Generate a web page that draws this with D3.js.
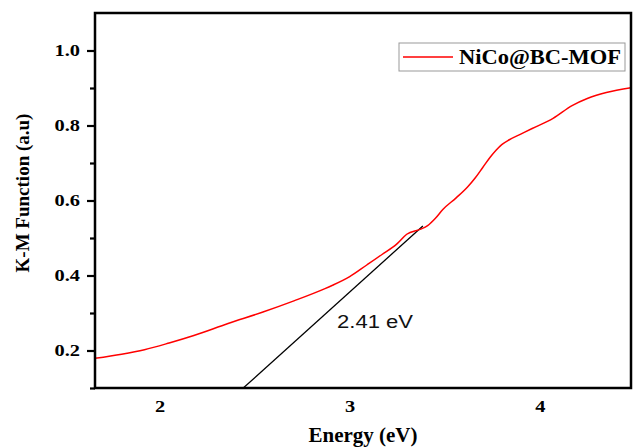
<!DOCTYPE html>
<html>
<head>
<meta charset="utf-8">
<script src="https://cdn.jsdelivr.net/npm/d3@7"></script>
<style>
  body { margin: 0; background: #fff; }
  svg { display: block; }
</style>
</head>
<body>
<svg id="chart"></svg>
<script>
// K-M function
let energy = [1.66, 1.80, 1.92, 2.05, 2.18, 2.36, 2.54, 2.71, 2.87, 2.91, 3.00, 3.09, 3.17, 3.25, 3.30, 3.37, 3.41, 3.45, 3.49, 3.56, 3.62, 3.66, 3.70, 3.74, 3.77, 3.80, 3.84, 3.90, 3.96, 4.07, 4.17, 4.25, 4.35, 4.48];
let kmValues = [0.179, 0.190, 0.202, 0.220, 0.240, 0.272, 0.302, 0.333, 0.365, 0.374, 0.397, 0.428, 0.456, 0.485, 0.510, 0.523, 0.533, 0.552, 0.576, 0.607, 0.636, 0.660, 0.688, 0.716, 0.734, 0.749, 0.762, 0.777, 0.792, 0.819, 0.853, 0.872, 0.888, 0.901];

// tangent (Tauc) line
let tangentE = [2.44, 3.385];
let tangentV = [0.1, 0.532];

let seriesName = "NiCo@BC-MOF";
let annotation = "2.41 eV";
let xTicks = [2, 3, 4];
let yMajorTicks = [0.2, 0.4, 0.6, 0.8, 1.0];
let yMinorTicks = [0.1, 0.3, 0.5, 0.7, 0.9];

let width = 633;
let height = 447;
let plotLeft = 95, plotRight = 631, plotTop = 13, plotBottom = 388;
let serif = "'Liberation Serif', 'Times New Roman', serif";

let svg = d3.select("#chart").attr("width", width).attr("height", height);

let xScale = d3.scaleLinear().domain([1.66, 4.48]).range([plotLeft, plotRight]);
let yScale = d3.scaleLinear().domain([0.1, 1.1]).range([plotBottom, plotTop]);

svg.append("clipPath").attr("id", "clip")
  .append("rect")
  .attr("x", plotLeft).attr("y", plotTop)
  .attr("width", plotRight - plotLeft).attr("height", plotBottom - plotTop);

// tangent line
let tangent = tangentE.map((e, i) => [e, tangentV[i]]);
svg.append("path")
  .datum(tangent)
  .attr("clip-path", "url(#clip)")
  .attr("fill", "none")
  .attr("stroke", "#000")
  .attr("stroke-width", 1.3)
  .attr("d", d3.line().x(d => xScale(d[0])).y(d => yScale(d[1])));

// data line
let points = energy.map((e, i) => [e, kmValues[i]]);
svg.append("path")
  .datum(points)
  .attr("clip-path", "url(#clip)")
  .attr("fill", "none")
  .attr("stroke", "#ff0000")
  .attr("stroke-width", 1.5)
  .attr("d", d3.line().curve(d3.curveMonotoneX).x(d => xScale(d[0])).y(d => yScale(d[1])));

// annotation
svg.append("text")
  .attr("x", 337).attr("y", 328)
  .attr("font-family", "'Liberation Sans', Arial, sans-serif")
  .attr("font-size", 18)
  .attr("textLength", 76)
  .attr("lengthAdjust", "spacingAndGlyphs")
  .attr("fill", "#111")
  .text(annotation);

// frame
svg.append("rect")
  .attr("x", plotLeft).attr("y", plotTop)
  .attr("width", plotRight - plotLeft).attr("height", plotBottom - plotTop)
  .attr("fill", "none")
  .attr("stroke", "#000")
  .attr("stroke-width", 2.5);

// y axis (ticks outward)
let yAxis = d3.axisLeft(yScale).tickValues(yMajorTicks).tickSize(8).tickPadding(7)
  .tickFormat(d3.format(".1f"));
let gy = svg.append("g").attr("transform", "translate(" + plotLeft + ",0)").call(yAxis);
gy.select(".domain").remove();
gy.selectAll(".tick line").attr("stroke-width", 2.2);
gy.selectAll(".tick text")
  .attr("font-family", serif)
  .attr("font-weight", "bold")
  .attr("font-size", 17)
  .attr("fill", "#000")
  .attr("transform", "translate(-15,0) scale(1.2,1)")
  .attr("x", 0);

let gyMinor = svg.append("g").attr("transform", "translate(" + plotLeft + ",0)")
  .call(d3.axisLeft(yScale).tickValues(yMinorTicks).tickSize(5).tickFormat(""));
gyMinor.select(".domain").remove();
gyMinor.selectAll(".tick line").attr("stroke-width", 2.2);

// x axis (labels only)
let xAxis = d3.axisBottom(xScale).tickValues(xTicks).tickSize(0).tickPadding(12)
  .tickFormat(d3.format("d"));
let gx = svg.append("g").attr("transform", "translate(0," + plotBottom + ")").call(xAxis);
gx.select(".domain").remove();
gx.selectAll(".tick text")
  .attr("font-family", serif)
  .attr("font-weight", "bold")
  .attr("font-size", 17)
  .attr("fill", "#000")
  .attr("transform", "scale(1.2,1)");

// axis titles
svg.append("text")
  .attr("x", (plotLeft + plotRight) / 2).attr("y", 442)
  .attr("text-anchor", "middle")
  .attr("font-family", serif)
  .attr("font-weight", "bold")
  .attr("font-size", 21)
  .text("Energy (eV)");

svg.append("text")
  .attr("transform", "translate(29,193) rotate(-90)")
  .attr("text-anchor", "middle")
  .attr("font-family", serif)
  .attr("font-weight", "bold")
  .attr("font-size", 19)
  .text("K-M Function (a.u)");

// legend
let legend = svg.append("g");
legend.append("rect")
  .attr("x", 399).attr("y", 43)
  .attr("width", 226).attr("height", 28)
  .attr("fill", "#fff")
  .attr("stroke", "#999")
  .attr("stroke-width", 1);
legend.append("line")
  .attr("x1", 403).attr("x2", 453)
  .attr("y1", 57).attr("y2", 57)
  .attr("stroke", "#ff0000")
  .attr("stroke-width", 1.5);
legend.append("text")
  .attr("x", 459).attr("y", 64)
  .attr("font-family", serif)
  .attr("font-weight", "bold")
  .attr("font-size", 20)
  .attr("textLength", 162)
  .attr("lengthAdjust", "spacingAndGlyphs")
  .text(seriesName);
</script>
</body>
</html>
